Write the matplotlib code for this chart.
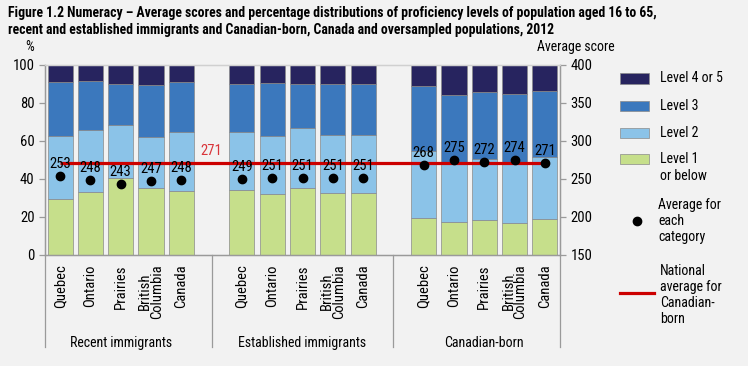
import matplotlib
matplotlib.use("Agg")
import matplotlib.pyplot as plt
import matplotlib.transforms as mtransforms
from matplotlib.patches import Rectangle
from matplotlib.lines import Line2D

plt.rcParams['font.family'] = ['Roboto Condensed', 'DejaVu Sans']

# data
groups = ["Recent immigrants", "Established immigrants", "Canadian-born"]
regions = ["Quebec", "Ontario", "Prairies", "British\nColumbia", "Canada"]

level1 = [29.0, 33.1, 40.1, 35.0, 33.6, 33.9, 32.0, 35.2, 32.5, 32.5, 19.0, 16.9, 18.0, 16.6, 18.7]
level2 = [33.5, 32.6, 28.1, 26.7, 31.0, 30.7, 30.5, 31.6, 30.2, 30.6, 35.5, 31.1, 32.1, 31.4, 32.8]
level3 = [28.5, 25.8, 21.4, 27.7, 26.2, 25.0, 27.9, 23.0, 27.1, 26.8, 34.4, 36.1, 35.2, 36.6, 34.6]
level45 = [9.0, 8.5, 10.4, 10.6, 9.2, 10.4, 9.6, 10.2, 10.2, 10.1, 11.1, 15.9, 14.7, 15.4, 13.9]
scores = [253, 248, 243, 247, 248, 249, 251, 251, 251, 251, 268, 275, 272, 274, 271]
national_avg = 271

# colours
bg = '#f2f2f2'
c1, c2, c3, c45 = '#c6df8b', '#8bc3e8', '#3b78bd', '#27245f'
red = '#cc0000'
grey = '#9a9a9a'

W, H = 748, 366
fig = plt.figure(figsize=(W / 100, H / 100), dpi=100)
fig.patch.set_facecolor(bg)

# axes placed in pixel terms
ax = fig.add_axes([45 / W, 1 - 254.5 / H, (560 - 45) / W, (254.5 - 64.5) / H])
ax.set_facecolor(bg)
ax2 = ax.twinx()

# bar positions: one empty slot between groups
pos = []
for g in range(len(groups)):
    for i in range(len(regions)):
        pos.append(g * 6 + i)

w = 0.83
edge = dict(edgecolor='#8a8a8a', linewidth=0.5)
bottom = [0] * len(pos)
for vals, col in [(level1, c1), (level2, c2), (level3, c3), (level45, c45)]:
    ax.bar(pos, vals, w, bottom=bottom, color=col, zorder=2, **edge)
    bottom = [b + v for b, v in zip(bottom, vals)]

ax.set_xlim(-0.5, 16.5)
ax.set_ylim(0, 100)
ax.set_yticks([0, 20, 40, 60, 80, 100])
ax2.set_ylim(150, 400)
ax2.set_yticks([150, 200, 250, 300, 350, 400])

# national average line and dots
ax2.hlines(national_avg, pos[0], pos[-1], color=red, linewidth=2.3, zorder=3)
ax2.annotate(str(national_avg), (5, national_avg), xytext=(0, 8), textcoords='offset points',
             ha='center', va='center', color='#d9343a', fontsize=10.5)
ax2.plot(pos, scores, 'o', color='black', markersize=6, zorder=4)
for p, s in zip(pos, scores):
    ax2.annotate(str(s), (p, s), xytext=(0, 8.5), textcoords='offset points',
                 ha='center', va='center', fontsize=10.5, zorder=5)

# spines and ticks
for a in (ax, ax2):
    for sp in a.spines.values():
        sp.set_color(grey)
        sp.set_linewidth(0.9)
    a.spines['top'].set_color('#d0d0d0')
    a.tick_params(axis='y', colors=grey, labelcolor='black', labelsize=10.5, length=4, width=0.9)
ax.set_xticks(pos)
ax.set_xticklabels(regions * 3, rotation=90, va='top', ha='center', fontsize=10.5,
                   linespacing=0.8)
ax.tick_params(axis='x', length=0, pad=7)

# group separators and labels below the axis
trans = mtransforms.blended_transform_factory(ax.transData, ax.transAxes)
for xs in [-0.5, 5, 11, 16.5]:
    ax.plot([xs, xs], [0, -0.485], color=grey, linewidth=0.9, transform=trans, clip_on=False)
for g, name in enumerate(groups):
    ax.text(g * 6 + 2, -0.466, name, transform=trans, ha='center', va='center', fontsize=10)

# title and axis captions
fig.text(8 / W, 1 - 13 / H, "Figure 1.2 Numeracy \u2013 Average scores and percentage distributions of proficiency levels of population aged 16 to 65,",
         fontsize=9.9, fontweight='bold', va='center', ha='left')
fig.text(8 / W, 1 - 30 / H, "recent and established immigrants and Canadian-born, Canada and oversampled populations, 2012",
         fontsize=9.9, fontweight='bold', va='center', ha='left')
fig.text(25 / W, 1 - 47 / H, "%", fontsize=10, va='center', ha='left')
fig.text(537 / W, 1 - 47 / H, "Average score", fontsize=10, va='center', ha='left')

# legend drawn by hand
def fy(py):
    return 1 - py / H

for col, label, py in [(c45, "Level 4 or 5", 78.5), (c3, "Level 3", 106),
                       (c2, "Level 2", 133), (c1, "Level 1", 159)]:
    fig.add_artist(Rectangle((620 / W, fy(py + 5)), 29 / W, 10 / H, facecolor=col,
                             edgecolor='#8a8a8a', linewidth=0.5, transform=fig.transFigure))
    fig.text(660 / W, fy(py), label, fontsize=10, va='center', ha='left')
fig.text(660 / W, fy(175.5), "or below", fontsize=10, va='center', ha='left')

fig.add_artist(Line2D([637 / W], [fy(221)], marker='o', color='black', markersize=6,
                      transform=fig.transFigure))
fig.text(658 / W, fy(221), "Average for\neach\ncategory", fontsize=10, va='center', ha='left',
         linespacing=1.2)

fig.add_artist(Line2D([620 / W, 654 / W], [fy(293), fy(293)], color=red, linewidth=2.3,
                      transform=fig.transFigure))
fig.text(660 / W, fy(295), "National\naverage for\nCanadian-\nborn", fontsize=10, va='center',
         ha='left', linespacing=1.2)

fig.savefig("out.png", dpi=100, facecolor=bg)
